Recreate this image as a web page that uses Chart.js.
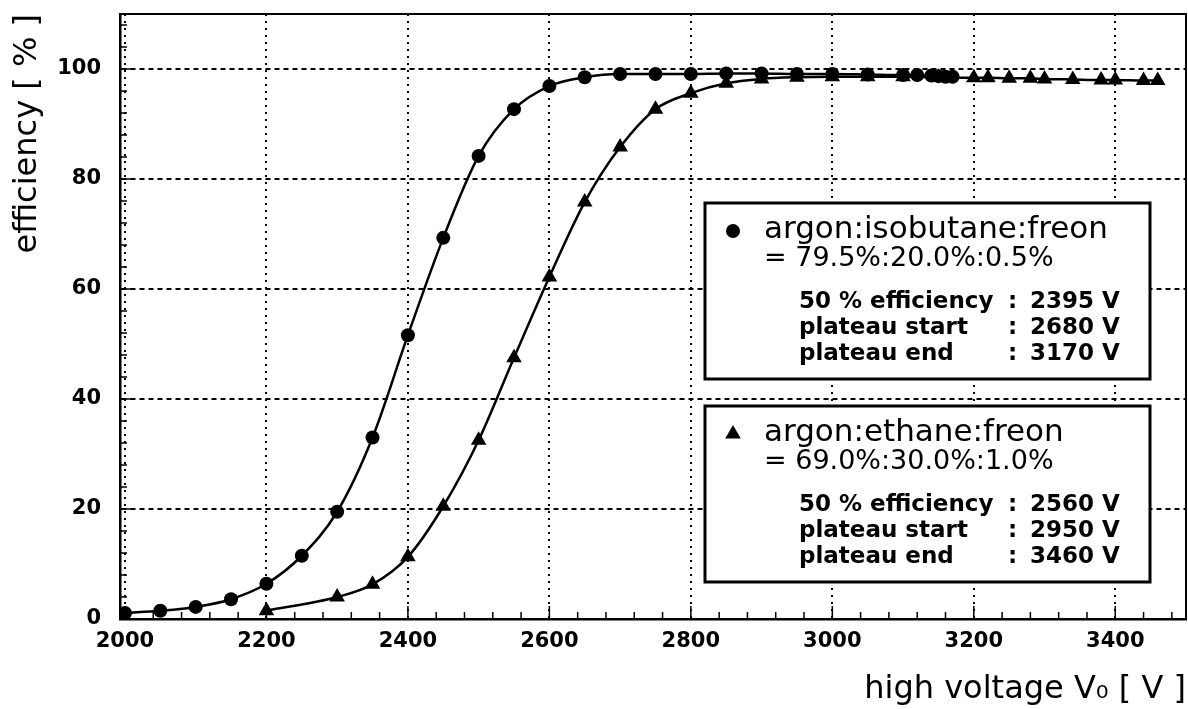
<!DOCTYPE html>
<html lang="en">

<head>
    <meta charset="UTF-8">
    <title>efficiency vs high voltage</title>
    <script src="https://cdn.jsdelivr.net/npm/chart.js"></script>
    <style>
        html, body { margin: 0; padding: 0; background: #fff; overflow: hidden; }
        #myChart { display: block; }
    </style>
</head>

<body>
    <canvas id="myChart" width="1188" height="709"></canvas>
</body>

</html>

<script>
    // values
    const voltsIso = [2000, 2050, 2100, 2150, 2200, 2250, 2300, 2350, 2400, 2450, 2500, 2550, 2600, 2650, 2700, 2750, 2800, 2850, 2900, 2950, 3000, 3050, 3100, 3120, 3140, 3150, 3160, 3170];
    const effIso = [1.1, 1.5, 2.2, 3.6, 6.4, 11.5, 19.5, 33.0, 51.6, 69.3, 84.2, 92.7, 96.9, 98.5, 99.1, 99.1, 99.1, 99.2, 99.2, 99.1, 99.1, 99.0, 98.9, 98.9, 98.8, 98.7, 98.6, 98.6];

    const voltsEth = [2200, 2300, 2350, 2400, 2450, 2500, 2550, 2600, 2650, 2700, 2750, 2800, 2850, 2900, 2950, 3000, 3050, 3100, 3150, 3200, 3220, 3250, 3280, 3300, 3340, 3380, 3400, 3440, 3460];
    const effEth = [1.5, 4.0, 6.3, 11.3, 20.5, 32.5, 47.5, 62.2, 75.8, 85.8, 92.7, 95.6, 97.4, 98.2, 98.5, 98.6, 98.6, 98.6, 98.5, 98.4, 98.4, 98.3, 98.3, 98.2, 98.1, 98.0, 98.0, 97.9, 97.9];

    const xTicks = [2000, 2200, 2400, 2600, 2800, 3000, 3200, 3400];
    const yTicks = [0, 20, 40, 60, 80, 100];
    const xMinorStep = 40;
    const yMinorStep = 4;

    // legend texts
    const legendNames = ['argon:isobutane:freon', 'argon:ethane:freon'];
    const legendMix = ['= 79.5%:20.0%:0.5%', '= 69.0%:30.0%:1.0%'];
    const paramLabels = ['50 % efficiency', 'plateau start', 'plateau end'];
    const paramIso = ['2395 V', '2680 V', '3170 V'];
    const paramEth = ['2560 V', '2950 V', '3460 V'];

    function toPoints(xs, ys) {
        return xs.map((v, i) => ({ x: v, y: ys[i] }));
    }

    function drawLegendBox(ctx, top, style, name, mix, values) {
        const left = 705, right = 1150, h = 176;
        ctx.fillStyle = '#fff';
        ctx.fillRect(left, top, right - left, h);
        ctx.lineWidth = 3;
        ctx.strokeStyle = '#000';
        ctx.strokeRect(left, top, right - left, h);

        ctx.fillStyle = '#000';
        Chart.helpers.drawPoint(ctx, { pointStyle: style, radius: style === 'circle' ? 7 : 9, borderWidth: 0, rotation: 0 }, 733, top + 28);

        ctx.textAlign = 'left';
        ctx.textBaseline = 'alphabetic';
        ctx.font = '31px "DejaVu Sans"';
        ctx.fillText(name, 764, top + 35);
        ctx.font = '27px "DejaVu Sans"';
        ctx.fillText(mix, 764, top + 63);
        ctx.font = 'bold 23px "DejaVu Sans"';
        for (let i = 0; i < paramLabels.length; i++) {
            const yy = top + 105 + i * 26;
            ctx.fillText(paramLabels[i], 799, yy);
            ctx.fillText(':', 1008, yy);
            ctx.fillText(values[i], 1030, yy);
        }
    }

    // frame, inner ticks and the two text boxes
    const extras = {
        id: 'extras',
        afterDraw(chart) {
            const ctx = chart.ctx;
            const a = chart.chartArea;
            const sx = chart.scales.x;
            const sy = chart.scales.y;
            ctx.save();
            ctx.strokeStyle = '#000';
            ctx.lineWidth = 2;
            ctx.beginPath();
            ctx.moveTo(a.left, a.top);
            ctx.lineTo(a.right, a.top);
            ctx.lineTo(a.right, a.bottom);
            ctx.stroke();

            ctx.lineWidth = 1.5;
            ctx.beginPath();
            for (let v = xTicks[0]; v <= sx.max; v += xMinorStep) {
                const px = sx.getPixelForValue(v);
                const len = xTicks.includes(v) ? 13 : 7;
                ctx.moveTo(px, a.bottom);
                ctx.lineTo(px, a.bottom - len);
            }
            for (let v = yTicks[0]; v <= sy.max; v += yMinorStep) {
                const py = sy.getPixelForValue(v);
                const len = yTicks.includes(v) ? 12 : 7;
                ctx.moveTo(a.left, py);
                ctx.lineTo(a.left + len, py);
            }
            ctx.stroke();

            drawLegendBox(ctx, 203, 'circle', legendNames[0], legendMix[0], paramIso);
            drawLegendBox(ctx, 406, 'triangle', legendNames[1], legendMix[1], paramEth);
            ctx.restore();
        }
    };

    const tickFont = { family: 'DejaVu Sans', weight: 'bold', size: 21 };
    const titleFont = { family: 'DejaVu Sans', size: 32 };

    const ctx = document.getElementById('myChart').getContext('2d');
    const myChart = new Chart(ctx, {
        type: 'line',
        data: {
            datasets: [{
                label: legendNames[0],
                data: toPoints(voltsIso, effIso),
                borderColor: '#000',
                backgroundColor: '#000',
                borderWidth: 2.5,
                pointStyle: 'circle',
                pointRadius: 7,
                pointBorderWidth: 0,
                cubicInterpolationMode: 'monotone',
                fill: false
            }, {
                label: legendNames[1],
                data: toPoints(voltsEth, effEth),
                borderColor: '#000',
                backgroundColor: '#000',
                borderWidth: 2.5,
                pointStyle: 'triangle',
                pointRadius: 9,
                pointBorderWidth: 0,
                cubicInterpolationMode: 'monotone',
                fill: false
            }]
        },
        options: {
            responsive: false,
            animation: false,
            devicePixelRatio: 1,
            layout: { autoPadding: false, padding: { top: 14, right: 2, left: 0, bottom: 0 } },
            plugins: {
                legend: { display: false },
                tooltip: { enabled: false }
            },
            scales: {
                x: {
                    type: 'linear',
                    min: 1993,
                    max: 3500,
                    afterBuildTicks: s => { s.ticks = xTicks.map(v => ({ value: v })); },
                    afterFit: s => { s.height = 90; s.paddingLeft = 0; s.paddingRight = 0; },
                    ticks: { color: '#000', font: tickFont, padding: 10, maxRotation: 0, autoSkip: false, callback: v => String(v) },
                    grid: { color: '#000', lineWidth: 2, drawTicks: false },
                    border: { display: true, color: '#000', width: 2.5, dash: [2, 5] },
                    title: {
                        display: true,
                        text: 'high voltage V₀ [ V ]',
                        align: 'end',
                        color: '#000',
                        font: titleFont,
                        padding: { top: 0, bottom: 0 }
                    }
                },
                y: {
                    min: 0,
                    max: 110,
                    afterBuildTicks: s => { s.ticks = yTicks.map(v => ({ value: v })); },
                    afterFit: s => { s.width = 120; s.paddingTop = 0; s.paddingBottom = 0; },
                    ticks: { color: '#000', font: tickFont, padding: 19, callback: v => String(v) },
                    grid: { color: '#000', lineWidth: 2, drawTicks: false },
                    border: { display: true, color: '#000', width: 2.5, dash: [5, 4] },
                    title: {
                        display: true,
                        text: 'efficiency [ % ]',
                        align: 'end',
                        color: '#000',
                        font: titleFont,
                        padding: { top: 8, bottom: 0 }
                    }
                }
            }
        },
        plugins: [extras]
    });
</script>
